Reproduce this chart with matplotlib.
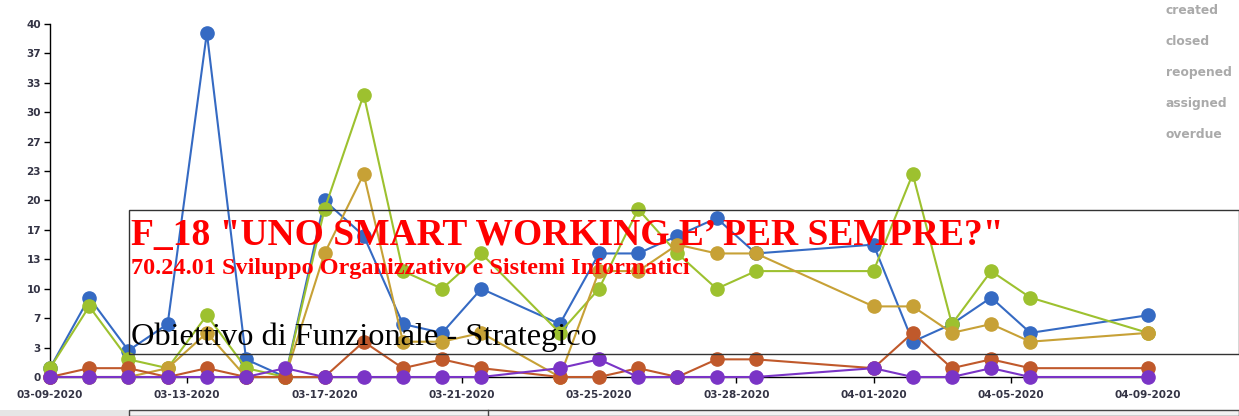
import matplotlib
matplotlib.use('Agg')
import matplotlib.pyplot as plt
from matplotlib.patches import Rectangle
from matplotlib.lines import Line2D
from matplotlib.ticker import FuncFormatter

# slot index of each sample along the time axis
slots = [0, 1, 2, 3, 4, 5, 6, 7, 8, 9, 10, 11, 13, 14, 15, 16, 17, 18, 21, 22, 23, 24, 25, 28]

created  = [1, 9, 3, 6, 39, 2, 0, 20, 16, 6, 5, 10, 6, 14, 14, 16, 18, 14, 15, 4, 6, 9, 5, 7]
closed   = [1, 8, 2, 1, 7, 1, 0, 19, 32, 12, 10, 14, 5, 10, 19, 14, 10, 12, 12, 23, 6, 12, 9, 5]
reopened = [0, 0, 0, 1, 5, 0, 0, 14, 23, 4, 4, 5, 0, 12, 12, 15, 14, 14, 8, 8, 5, 6, 4, 5]
assigned = [0, 1, 1, 0, 1, 0, 0, 0, 4, 1, 2, 1, 0, 0, 1, 0, 2, 2, 1, 5, 1, 2, 1, 1]
overdue  = [0, 0, 0, 0, 0, 0, 1, 0, 0, 0, 0, 0, 1, 2, 0, 0, 0, 0, 1, 0, 0, 1, 0, 0]

series_names = ['created', 'closed', 'reopened', 'assigned', 'overdue']
series_vals = [created, closed, reopened, assigned, overdue]
colors = ['#356ac3', '#9dc12f', '#c7a136', '#c0592b', '#7a34c6']

date_labels = ['03-09-2020', '03-13-2020', '03-17-2020', '03-21-2020', '03-25-2020',
               '03-28-2020', '04-01-2020', '04-05-2020', '04-09-2020']
date_ticks = [3.5 * i for i in range(len(date_labels))]

title = 'F_18 "UNO SMART WORKING E\u2019 PER SEMPRE?"'
subtitle = '70.24.01 Sviluppo Organizzativo e Sistemi Informatici'
caption = 'Obiettivo di Funzionale - Strategico'

W, H = 1239, 416
fig = plt.figure(figsize=(W / 100, H / 100), dpi=100)
ax = fig.add_axes([50 / W, (H - 377) / H, (1148 - 50) / W, (377 - 24) / H])

for name, vals, c in zip(series_names, series_vals, colors):
    ax.plot(slots, vals, color=c, lw=1.5, marker='o', ms=9.5, mec=c, clip_on=False, zorder=3)

ax.set_xlim(0, 28)
ax.set_ylim(0, 40)
ax.set_yticks([40 * i / 12 for i in range(13)])
ax.yaxis.set_major_formatter(FuncFormatter(lambda v, p: '%d' % round(v)))
ax.set_xticks(date_ticks)
ax.set_xticklabels(date_labels)
for s in ['top', 'right']:
    ax.spines[s].set_visible(False)
ax.spines['left'].set_linewidth(1)
ax.spines['bottom'].set_linewidth(1)
ax.tick_params(axis='y', length=4.5, width=1, pad=2, labelsize=7.5, labelcolor='#333344')
ax.tick_params(axis='x', length=4, width=1, pad=5, labelsize=7.5, labelcolor='#333344')
for lbl in ax.get_xticklabels() + ax.get_yticklabels():
    lbl.set_fontweight('bold')

# legend labels, grey text only
for i, name in enumerate(series_names):
    fig.text(1166 / W, 1 - (11 + 30.8 * i) / H, name, color='#aaaaaa', fontsize=8.8,
             fontweight='bold', va='center', ha='left')

# overlay box with title
fig.add_artist(Rectangle((129 / W, (H - 354) / H), (W - 129) / W, 144 / H, transform=fig.transFigure,
                         fill=False, ec='#333333', lw=1, zorder=10))
fig.text(131 / W, 1 - 245 / H, title, color='red', fontsize=27, fontweight='bold',
         family='Liberation Serif', va='baseline', zorder=11)
fig.text(131 / W, 1 - 274 / H, subtitle, color='red', fontsize=17.5, fontweight='bold',
         family='Liberation Serif', va='baseline', zorder=11)
fig.text(131 / W, 1 - 345 / H, caption, color='black', fontsize=23.3,
         family='Liberation Serif', va='baseline', zorder=11)

# bottom strip
fig.add_artist(Rectangle((0, 0), 1, 6.5 / H, transform=fig.transFigure, fc='#e6e6e6', ec='none', zorder=1))
fig.add_artist(Rectangle((129 / W, 0), (W - 129) / W, 6.5 / H, transform=fig.transFigure,
                         fc='#f2f2f2', ec='#444444', lw=1, zorder=2))
fig.add_artist(Line2D([488 / W, 488 / W], [0, 6.5 / H], transform=fig.transFigure, color='#444444', lw=1))

fig.savefig('out.png', dpi=100)
